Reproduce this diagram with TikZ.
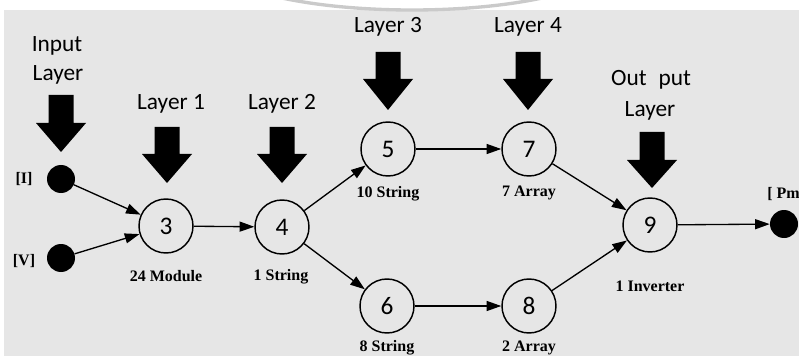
\documentclass[tikz,border=0pt]{standalone}
\usepackage{fontspec}
\newfontfamily\calib{Carlito}
\newfontfamily\timesf{Liberation Serif}
\usetikzlibrary{arrows.meta}
\definecolor{bggray}{HTML}{E6E6E6}
\definecolor{arcgray}{HTML}{CACACA}
\newcommand\blockarr[4]{\fill[black] (#1-12.5,#2) -- (#1+12.5,#2) -- (#1+12.5,#3) -- (#1+25,#3) -- (#1,#4) -- (#1-25,#3) -- (#1-12.5,#3) -- cycle;}
\begin{document}
\begin{tikzpicture}[x=0.75pt,y=-0.75pt,
  neuron/.style={circle,draw=black,line width=1.1pt,minimum size=40.5pt,inner sep=0pt,font=\calib\fontsize{19}{19}\selectfont},
  dot/.style={circle,fill=black,minimum size=21pt,inner sep=0pt},
  lab/.style={font=\timesf\bfseries\fontsize{12}{12}\selectfont,anchor=base,inner sep=0pt},
  layertxt/.style={font=\calib\fontsize{17.5}{17.5}\selectfont,anchor=base,inner sep=0pt},
  conn/.style={line width=1pt,-{Triangle[length=11pt,width=7.5pt]}}
]
\path[use as bounding box] (0,0) rectangle (799,356);
\begin{scope}
\clip (0,0) rectangle (799,356);
\fill[white] (0,0) rectangle (799,356);
\fill[bggray] (4,10) rectangle (799,356);
\draw[arcgray,line width=2.5pt,fill=white] (412,-40) ellipse [x radius=200,y radius=50];
\end{scope}

% block arrows
\blockarr{61}{95}{123}{152}
\blockarr{167}{127}{154}{183}
\blockarr{282}{127}{154}{183}
\blockarr{388}{52}{79}{110}
\blockarr{528}{52}{79}{110}
\blockarr{652}{132}{160}{188}

% layer texts
\node[layertxt] (tin1) at (57,52) {Input};
\node[layertxt] (tin2) at (58,81) {Layer};
\node[layertxt] (tl1) at (171,110) {Layer 1};
\node[layertxt] (tl2) at (282,110) {Layer 2};
\node[layertxt] (tl3) at (388,33) {Layer 3};
\node[layertxt] (tl4) at (528,33) {Layer 4};
\node[layertxt] (tout1) at (651,86) {Out\hspace{5pt} put};
\node[layertxt] (tout2) at (650,117) {Layer};

% dots
\node[dot] (I) at (61,179) {};
\node[dot] (V) at (61,258) {};
\node[dot] (Pm) at (784,224) {};
\node[lab] (lI) at (24,183) {[I]};
\node[lab] (lV) at (24,265) {[V]};
\node[lab,anchor=base west] (lPm) at (767,198) {[ Pm};

% neurons
\node[neuron] (n3) at (166,226) {3};
\node[neuron] (n4) at (282,227) {4};
\node[neuron] (n5) at (388,149) {5};
\node[neuron] (n6) at (387,306) {6};
\node[neuron] (n7) at (529,149) {7};
\node[neuron] (n8) at (529,306) {8};
\node[neuron] (n9) at (650,225) {9};

% labels
\node[lab] (l3) at (166,281) {24 Module};
\node[lab] (l4) at (281,280) {1 String};
\node[lab] (l5) at (388,197) {10 String};
\node[lab] (l6) at (387,351) {8 String};
\node[lab] (l7) at (529,196) {7 Array};
\node[lab] (l8) at (529,351) {2 Array};
\node[lab] (l9) at (650,291) {1 Inverter};

% connectors
\draw[conn] (I) -- (n3);
\draw[conn] (V) -- (n3);
\draw[conn] (n3) -- (n4);
\draw[conn] (n4) -- (n5);
\draw[conn] (n4) -- (n6);
\draw[conn] (n5) -- (n7);
\draw[conn] (n6) -- (n8);
\draw[conn] (n7) -- (n9);
\draw[conn] (n8) -- (n9);
\draw[conn] (n9) -- (Pm);
\end{tikzpicture}
\end{document}
